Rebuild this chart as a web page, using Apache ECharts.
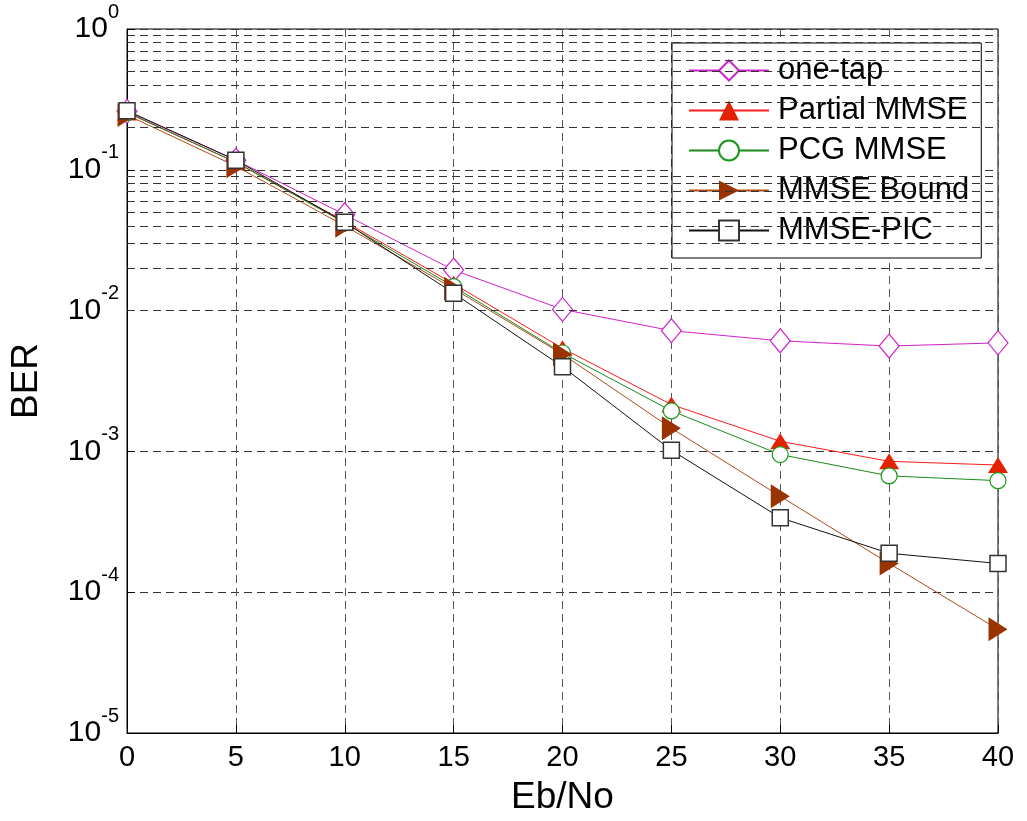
<!DOCTYPE html>
<html>
<head>
<meta charset="utf-8">
<script src="https://cdn.jsdelivr.net/npm/echarts@6/dist/echarts.min.js"></script>
<style>
html,body{margin:0;padding:0;background:#fff;}
#chart{width:1027px;height:821px;}
</style>
</head>
<body>
<div id="chart"></div>
<script>
// ---- data ----
var ebno = [0, 5, 10, 15, 20, 25, 30, 35, 40];
var oneTap      = [0.26, 0.117, 0.048, 0.0194, 0.0102, 0.0072, 0.0061, 0.0056, 0.0059];
var partialMMSE = [0.255, 0.113, 0.043, 0.0155, 0.0054, 0.00215, 0.00118, 0.00085, 0.00080];
var pcgMMSE     = [0.255, 0.113, 0.042, 0.0148, 0.0050, 0.00194, 0.00095, 0.00067, 0.00062];
var mmseBound   = [0.245, 0.106, 0.040, 0.0143, 0.0049, 0.00146, 0.00048, 0.00016, 0.0000545];
var mmsePIC     = [0.263, 0.117, 0.0424, 0.0133, 0.0040, 0.00102, 0.000338, 0.000189, 0.00016];
var seriesNames = ['one-tap', 'Partial MMSE', 'PCG MMSE', 'MMSE Bound', 'MMSE-PIC'];
var decadeExponents = [-5, -4, -3, -2, -1];
var minorMultipliers = [2, 3, 4, 5, 6, 7, 8, 9];

function pairs(xs, ys) { return xs.map(function (x, i) { return [x, ys[i]]; }); }

var minorLines = [];
decadeExponents.forEach(function (e) {
  minorMultipliers.forEach(function (m) { minorLines.push({ yAxis: m * Math.pow(10, e) }); });
});

var FONT = '"Liberation Sans", Arial, sans-serif';
var gridDash = { type: [8, 5], color: '#333', width: 1 };

var chart = echarts.init(document.getElementById('chart'), null, { renderer: 'canvas' });
chart.setOption({
  animation: false,
  backgroundColor: '#fff',
  textStyle: { fontFamily: FONT },
  grid: { left: 127, right: 29, top: 29, bottom: 88, show: true, borderColor: '#000', borderWidth: 1, backgroundColor: 'transparent' },
  xAxis: {
    type: 'value', min: 0, max: 40, interval: 5,
    name: 'Eb/No', nameLocation: 'middle', nameGap: 46,
    nameTextStyle: { fontSize: 37, color: '#000', fontFamily: FONT },
    axisLine: { lineStyle: { color: '#000', width: 1 } },
    axisTick: { inside: true, length: 8, lineStyle: { color: '#000' } },
    axisLabel: { fontSize: 29, color: '#000', margin: 10, fontFamily: FONT },
    splitLine: { show: true, lineStyle: { type: [8, 5], color: '#555', width: 1 } }
  },
  yAxis: {
    type: 'log', logBase: 10, min: 1e-5, max: 1,
    name: 'BER', nameLocation: 'middle', nameGap: 82,
    nameTextStyle: { fontSize: 37, color: '#000', fontFamily: FONT },
    axisLine: { lineStyle: { color: '#000', width: 1 } },
    axisTick: { inside: true, length: 8, lineStyle: { color: '#000' } },
    axisLabel: {
      margin: 8,
      formatter: function (v) {
        var e = Math.round(Math.log10(v));
        return '{b|10}{e|' + e + '}';
      },
      rich: {
        b: { fontSize: 30, lineHeight: 54, color: '#000', fontFamily: FONT },
        e: { fontSize: 20, lineHeight: 20, verticalAlign: 'top', color: '#000', fontFamily: FONT }
      }
    },
    splitLine: { show: true, lineStyle: gridDash }
  },
  legend: {
    data: seriesNames,
    orient: 'vertical',
    left: 672, top: 43,
    padding: [12, 12, 12, 16],
    itemWidth: 80, itemHeight: 25, itemGap: 9,
    backgroundColor: '#fff', borderColor: '#000', borderWidth: 1,
    textStyle: { fontSize: 31, lineHeight: 30, color: '#000', fontFamily: FONT, padding: [0, 0, 0, 4] },
    selectedMode: false
  },
  series: [
    {
      name: 'grid-minor', type: 'line', data: [], silent: true,
      markLine: { silent: true, symbol: ['none', 'none'], label: { show: false },
        lineStyle: gridDash, data: minorLines, animation: false }
    },
    {
      name: 'one-tap', type: 'line', data: pairs(ebno, oneTap),
      symbol: 'diamond', symbolSize: [20, 24],
      lineStyle: { color: '#cc22cc', width: 1 },
      itemStyle: { color: '#fff', borderColor: '#cc22cc', borderWidth: 1.2 }
    },
    {
      name: 'Partial MMSE', type: 'line', data: pairs(ebno, partialMMSE),
      symbol: 'triangle', symbolSize: [20, 16],
      lineStyle: { color: '#ff1a1a', width: 1 },
      itemStyle: { color: '#e22200', borderColor: '#e22200', borderWidth: 0 }
    },
    {
      name: 'PCG MMSE', type: 'line', data: pairs(ebno, pcgMMSE),
      symbol: 'circle', symbolSize: 16,
      lineStyle: { color: '#1a8a1a', width: 1 },
      itemStyle: { color: '#fff', borderColor: '#1a9a1a', borderWidth: 1.2 }
    },
    {
      name: 'MMSE Bound', type: 'line', data: pairs(ebno, mmseBound),
      symbol: 'triangle', symbolSize: [24, 19], symbolRotate: -90,
      lineStyle: { color: '#b04a1a', width: 1 },
      itemStyle: { color: '#993300', borderColor: '#993300', borderWidth: 0 }
    },
    {
      name: 'MMSE-PIC', type: 'line', data: pairs(ebno, mmsePIC),
      symbol: 'rect', symbolSize: 16,
      lineStyle: { color: '#111', width: 1 },
      itemStyle: { color: '#fff', borderColor: '#333', borderWidth: 1.5 }
    }
  ]
});
</script>
</body>
</html>
